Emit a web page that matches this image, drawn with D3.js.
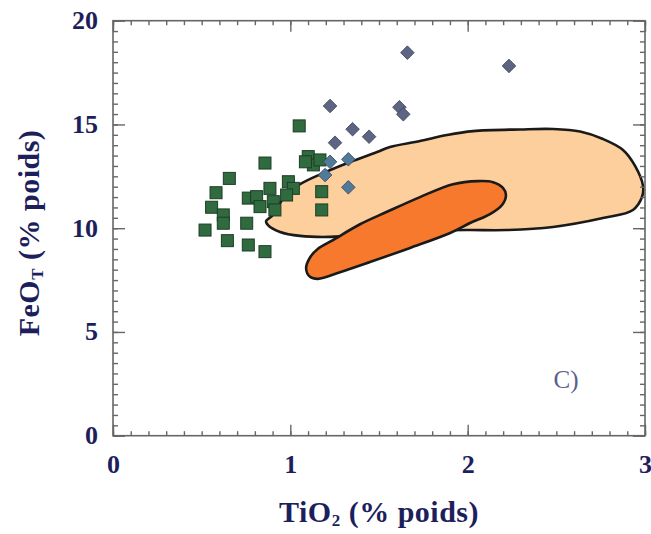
<!DOCTYPE html>
<html>
<head>
<meta charset="utf-8">
<script src="https://cdn.jsdelivr.net/npm/d3@7"></script>
<style>
  html, body { margin: 0; padding: 0; background: #ffffff; }
  svg { display: block; }
</style>
</head>
<body>
<svg id="chart" width="651" height="534"></svg>
<script>
// TiO2 vs FeOT (% poids)
const xTickValues = [0, 1, 2, 3];
const yTickValues = [0, 5, 10, 15, 20];

// Green squares: TiO2, FeOT
const squareTiO2 = [1.05, 0.857, 0.656, 0.581, 0.556, 0.622, 0.622, 0.519, 0.645, 0.754, 0.763, 0.857,
  0.763, 0.81, 0.829, 0.885, 0.904, 0.913, 0.989, 1.017, 0.979, 1.101, 1.13, 1.167, 1.177, 1.177, 1.085];
const squareFeOT = [14.93, 13.14, 12.40, 11.71, 11.01, 10.64, 10.24, 9.91, 9.40, 10.24, 9.19, 8.87,
  11.45, 11.52, 11.04, 11.92, 11.28, 10.88, 12.24, 11.92, 11.60, 13.45, 13.05, 13.29, 11.76, 10.88, 13.20];

// Slate diamonds
const diamondTiO2 = [1.66, 2.233, 1.224, 1.615, 1.637, 1.351, 1.444, 1.252];
const diamondFeOT = [18.46, 17.82, 15.89, 15.83, 15.49, 14.77, 14.41, 14.12];

// Blue diamonds
const blueTiO2 = [1.224, 1.327, 1.196, 1.327];
const blueFeOT = [13.20, 13.32, 12.56, 11.97];

// Light field outline
const fieldA_TiO2 = [0.863, 0.897, 0.970, 1.055, 1.184, 1.337, 1.489, 1.562, 1.731, 1.883, 2.030, 2.295,
  2.481, 2.634, 2.763, 2.876, 2.944, 2.989, 2.983, 2.932, 2.763, 2.481, 2.222, 1.996, 1.788, 1.506,
  1.224, 1.055, 0.942, 0.874];
const fieldA_FeOT = [10.34, 10.59, 11.54, 12.12, 12.65, 13.19, 13.67, 13.91, 14.20, 14.49, 14.68, 14.76,
  14.78, 14.66, 14.30, 13.77, 13.00, 12.03, 11.50, 10.88, 10.49, 10.06, 9.91, 9.91, 9.87, 9.77,
  9.58, 9.63, 9.82, 10.15];

// Orange field outline
const fieldB_TiO2 = [1.111, 1.156, 1.235, 1.393, 1.545, 1.731, 1.917, 2.058, 2.143, 2.199, 2.216, 2.194,
  2.126, 2.013, 1.901, 1.675, 1.449, 1.280, 1.156, 1.111, 1.089];
const fieldB_FeOT = [8.59, 9.01, 9.40, 10.19, 10.79, 11.50, 12.12, 12.27, 12.22, 11.94, 11.60, 11.12,
  10.68, 10.25, 9.77, 9.05, 8.37, 7.88, 7.56, 7.66, 8.06];

const svg = d3.select("#chart");
const plotLeft = 113, plotRight = 645, plotTop = 20.7, plotBottom = 435.7;
const x = d3.scaleLinear().domain([0, 3]).range([plotLeft, plotRight]);
const y = d3.scaleLinear().domain([0, 20]).range([plotBottom, plotTop]);

const navy = "#1d1f5c";
const frame = "#666666";
const serif = "'Liberation Serif', 'Times New Roman', serif";

// Fields
const outline = d3.line().x(d => x(d[0])).y(d => y(d[1])).curve(d3.curveCatmullRomClosed.alpha(0.5));
svg.append("path")
  .attr("d", outline(d3.zip(fieldA_TiO2, fieldA_FeOT)))
  .attr("fill", "#fdcf9d").attr("stroke", "#1a1a1a").attr("stroke-width", 2.6);
svg.append("path")
  .attr("d", outline(d3.zip(fieldB_TiO2, fieldB_FeOT)))
  .attr("fill", "#f6792e").attr("stroke", "#1a1a1a").attr("stroke-width", 2.6);

// Ticks on all four sides, pointing inward
function tickAxis(axisFn, scale, values, size, translate) {
  const g = svg.append("g")
    .attr("transform", translate)
    .call(axisFn(scale).tickValues(values).tickSize(size).tickFormat(""));
  g.select(".domain").remove();
  g.selectAll(".tick line").attr("stroke", frame).attr("stroke-width", 1.4);
}
const xMinor = d3.range(0, 31).map(i => i / 10);
const yMinor = d3.range(0, 41).map(i => i / 2);
tickAxis(d3.axisBottom, x, xMinor, -4.5, `translate(0,${plotBottom})`);
tickAxis(d3.axisBottom, x, xTickValues, -11, `translate(0,${plotBottom})`);
tickAxis(d3.axisTop, x, xMinor, -4.5, `translate(0,${plotTop})`);
tickAxis(d3.axisTop, x, xTickValues, -11, `translate(0,${plotTop})`);
tickAxis(d3.axisLeft, y, yMinor, -5, `translate(${plotLeft},0)`);
tickAxis(d3.axisLeft, y, yTickValues, -12, `translate(${plotLeft},0)`);
tickAxis(d3.axisRight, y, yMinor, -5, `translate(${plotRight},0)`);
tickAxis(d3.axisRight, y, yTickValues, -12, `translate(${plotRight},0)`);

svg.append("rect")
  .attr("x", plotLeft).attr("y", plotTop)
  .attr("width", plotRight - plotLeft).attr("height", plotBottom - plotTop)
  .attr("fill", "none").attr("stroke", frame).attr("stroke-width", 1.6);

// Tick labels
const xLab = svg.append("g").attr("transform", `translate(0,${plotBottom})`)
  .call(d3.axisBottom(x).tickValues(xTickValues).tickSize(0).tickPadding(37).tickFormat(d3.format("d")));
xLab.select(".domain").remove();
xLab.selectAll("text").attr("font-family", serif).attr("font-weight", "bold")
  .attr("font-size", 26).attr("fill", navy).attr("dy", 0);

const yLab = svg.append("g").attr("transform", `translate(${plotLeft},0)`)
  .call(d3.axisLeft(y).tickValues(yTickValues).tickSize(0).tickPadding(15).tickFormat(d3.format("d")));
yLab.select(".domain").remove();
yLab.selectAll("text").attr("font-family", serif).attr("font-weight", "bold")
  .attr("font-size", 26).attr("fill", navy).attr("dy", "0.3em");

// Squares
const sq = 12;
svg.append("g").selectAll("rect")
  .data(d3.zip(squareTiO2, squareFeOT))
  .join("rect")
  .attr("x", d => x(d[0]) - sq / 2).attr("y", d => y(d[1]) - sq / 2)
  .attr("width", sq).attr("height", sq)
  .attr("fill", "#2f6b3e").attr("stroke", "#1d3d27").attr("stroke-width", 1);

// Diamonds
const diamond = d3.symbol().type(d3.symbolSquare).size(92);
function drawDiamonds(xs, ys, fill) {
  svg.append("g").selectAll("path")
    .data(d3.zip(xs, ys))
    .join("path")
    .attr("d", diamond)
    .attr("transform", d => `translate(${x(d[0])},${y(d[1])}) rotate(45)`)
    .attr("fill", fill).attr("stroke", "#3e4460").attr("stroke-width", 0.8);
}
drawDiamonds(diamondTiO2, diamondFeOT, "#5d6583");
drawDiamonds(blueTiO2, blueFeOT, "#4f7b98");

// Axis titles
const xt = svg.append("text")
  .attr("x", 379).attr("y", 522).attr("text-anchor", "middle")
  .attr("font-family", serif).attr("font-weight", "bold").attr("font-size", 30)
  .attr("letter-spacing", 0.5).attr("fill", navy);
xt.append("tspan").text("TiO");
xt.append("tspan").text("2").attr("font-size", 17).attr("dy", 4);
xt.append("tspan").text(" (% poids)").attr("dy", -4);

const yt = svg.append("text")
  .attr("transform", "translate(39,233) rotate(-90)").attr("text-anchor", "middle")
  .attr("font-family", serif).attr("font-weight", "bold").attr("font-size", 30)
  .attr("letter-spacing", 0.5).attr("fill", navy);
yt.append("tspan").text("FeO");
yt.append("tspan").text("T").attr("font-size", 17).attr("dy", 4);
yt.append("tspan").text(" (% poids)").attr("dy", -4);

svg.append("text")
  .attr("x", 566).attr("y", 388).attr("text-anchor", "middle")
  .attr("font-family", serif).attr("font-size", 25).attr("fill", "#5a5e8e")
  .text("C)");
</script>
</body>
</html>
